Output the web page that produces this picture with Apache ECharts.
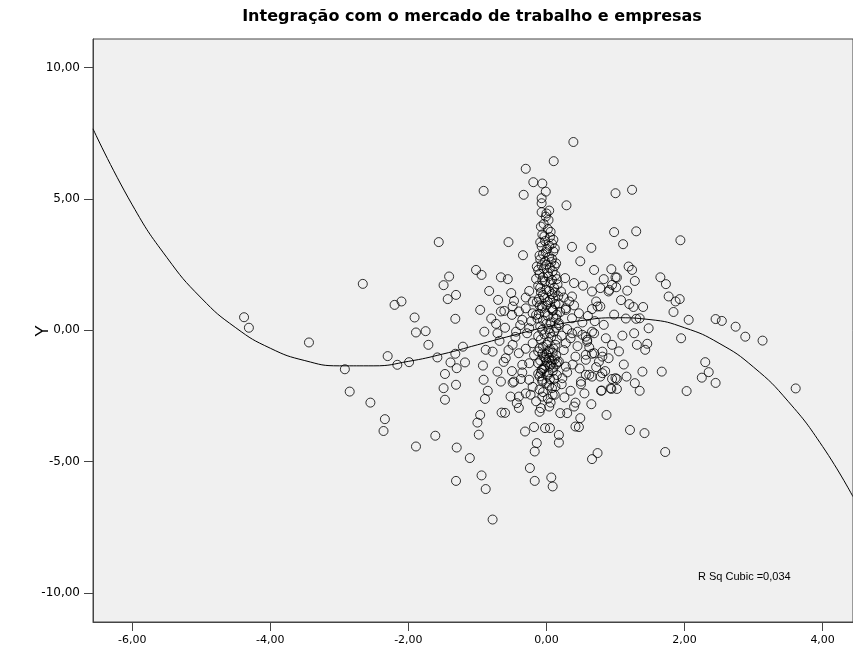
<!DOCTYPE html>
<html>
<head>
<meta charset="utf-8">
<script src="https://cdn.jsdelivr.net/npm/echarts@6/dist/echarts.min.js"></script>
<style>html,body{margin:0;padding:0;background:#fff;}#c{width:853px;height:653px;}</style>
</head>
<body>
<div id="c"></div>
<script>
const chartTitle = 'Integração com o mercado de trabalho e empresas';
const yAxisTitle = 'Y';
const fitLabel = 'R Sq Cubic =0,034';
const xTicks = [-6, -4, -2, 0, 2, 4];
const yTicks = [-10, -5, 0, 5, 10];

const upperPoints = [[0.39,7.17],[0.105,6.44],[-0.30,6.15],[-0.91,5.31],[-0.19,5.64],[-0.06,5.59],[-0.33,5.16],[-0.01,5.28],[-0.07,5.03],[-0.07,4.84],[-0.07,4.50],[0.04,4.56],[-0.01,4.33],[0.29,4.76],[1.00,5.22],[1.24,5.35],[0.98,3.74],[-1.56,3.36],[-0.55,3.36],[-0.34,2.86],[0.37,3.18],[0.65,3.14],[0.49,2.63],[0.69,2.30],[0.94,2.33],[1.00,2.02],[0.95,1.73],[0.90,1.48],[-1.02,2.30],[-0.94,2.11],[-0.66,2.02],[-0.56,1.95],[-1.41,2.05],[-1.49,1.72],[-1.31,1.35],[-1.43,1.19],[-2.20,0.97],[-2.10,1.10],[-1.91,0.49],[-1.32,0.44],[-0.83,1.50],[-0.70,1.16],[-0.96,0.78],[-0.51,1.42],[-0.47,1.12],[-0.61,0.74],[-0.25,1.50],[-0.14,2.43],[-0.15,1.96],[0.27,1.99],[0.40,1.80],[0.53,1.70],[0.21,1.48],[0.37,1.29],[0.28,0.78],[0.66,1.48],[0.78,1.61],[0.72,1.10],[0.66,0.81],[0.78,0.91],[0.91,1.54],[-0.30,0.84],[-0.40,0.72],[-0.50,0.59],[-0.20,0.65]];

const rightPoints = [[1.30,3.77],[1.11,3.28],[1.94,3.43],[1.19,2.43],[1.24,2.30],[0.83,1.95],[1.02,2.01],[1.28,1.88],[1.65,2.02],[1.73,1.76],[1.77,1.29],[1.93,1.19],[1.87,1.10],[1.84,0.70],[1.17,1.51],[1.01,1.64],[1.26,0.89],[1.40,0.89],[1.35,0.46],[1.30,0.44],[2.06,0.40],[2.45,0.43],[2.54,0.36],[2.74,0.14],[2.88,-0.24],[3.13,-0.39],[3.61,-2.21],[1.48,0.08],[1.27,-0.11],[1.31,-0.55],[1.46,-0.51],[1.43,-0.74],[1.95,-0.30],[0.86,-0.30],[0.83,0.21],[0.69,-0.11],[0.57,-0.24],[0.59,-0.36],[2.30,-1.21],[2.35,-1.59],[2.25,-1.80],[2.45,-2.00],[2.03,-2.31],[1.67,-1.57],[1.39,-1.57],[1.28,-2.01],[1.35,-2.30],[1.16,-1.76],[1.02,-1.85],[1.02,-2.23],[0.94,-2.23],[0.79,-2.30],[0.81,-1.00],[0.90,-1.06],[0.66,-0.89],[0.76,-1.19],[0.57,-1.12],[0.81,-1.63],[0.66,-1.76],[0.57,-1.69],[0.65,-2.81],[0.87,-3.22],[1.21,-3.79],[1.42,-3.91],[1.72,-4.63],[0.66,-4.90],[0.74,-4.67],[0.49,-3.34],[0.47,-3.68]];

const leftPoints = [[-2.66,1.77],[-4.38,0.50],[-4.31,0.10],[-3.44,-0.46],[-2.30,-0.98],[-2.16,-1.31],[-2.92,-1.48],[-2.85,-2.33],[-2.55,-2.75],[-2.34,-3.38],[-2.36,-3.83],[-1.99,-1.21],[-1.58,-1.03],[-1.21,-0.62],[-1.89,-0.08],[-1.75,-0.03],[-1.71,-0.55],[-1.32,-0.89],[-1.39,-1.22],[-1.30,-1.44],[-1.18,-1.22],[-1.47,-1.66],[-1.49,-2.20],[-1.31,-2.07],[-1.47,-2.64],[-1.61,-4.01],[-1.89,-4.42],[-1.30,-4.46],[-1.11,-4.86],[-1.31,-5.73],[-0.94,-5.52],[-0.88,-6.04],[-0.78,-7.20]];

const midPoints = [[-0.96,-3.22],[-1.00,-3.51],[-0.98,-3.97],[-0.90,-0.05],[-0.88,-0.74],[-0.92,-1.34],[-0.91,-1.88],[-0.85,-2.30],[-0.89,-2.61],[-0.73,0.25],[-0.71,-0.11],[-0.78,-0.81],[-0.71,-1.57],[-0.66,-1.95],[-0.65,-3.13],[-0.60,-3.14],[-0.49,-1.99],[-0.52,-2.52],[-0.40,-2.52],[-0.43,-2.77],[-0.37,-1.85],[-0.31,-3.85],[-0.18,-3.68],[-0.14,-4.29],[-0.17,-4.61],[-0.24,-5.24],[-0.17,-5.73],[-0.02,-3.72],[0.05,-3.72],[0.18,-3.98],[0.18,-4.27],[0.07,-5.60],[0.09,-5.94],[0.42,-2.75],[0.30,-3.15],[0.42,-3.66],[0.80,-2.29],[0.93,-2.20],[1.00,-1.82],[0.74,0.91],[-0.35,0.40],[-0.49,0.91],[-0.66,0.72],[-0.44,-0.05],[-0.28,-0.11],[-0.20,-0.49],[-0.49,-0.55],[-0.40,-0.87],[-0.59,-1.06],[-0.35,-1.31],[-0.47,-1.95],[-0.25,-1.88],[-0.23,-2.45],[-0.06,-1.88],[-0.06,-2.52],[0.09,-2.45],[0.04,-2.90],[-0.08,-2.96],[0.13,-2.14],[0.23,-1.82],[0.28,-1.38],[0.18,-1.19],[0.42,-1.00],[0.57,-0.93],[0.69,-0.87],[0.81,-0.81],[0.62,-1.69],[0.50,-1.95],[0.78,-1.76],[0.37,-0.11],[0.52,-0.17],[0.66,-0.05],[0.59,-0.43],[0.28,-0.49],[0.18,0.27],[0.37,0.46],[0.47,0.65],[0.28,0.84],[0.09,0.78],[-0.15,0.59],[-0.25,0.08],[-0.01,-1.12],[0.16,-1.22],[-0.06,-1.50]];

const columnPoints = [[0.00,4.45],[0.03,4.20],[-0.04,4.05],[0.02,3.85],[-0.06,3.65],[0.05,3.55],[-0.02,3.40],[0.08,3.30],[-0.07,3.20],[0.01,3.10],[0.10,3.00],[-0.05,2.90],[0.04,2.80],[-0.09,2.70],[0.07,2.60],[0.00,2.50],[0.12,2.45],[-0.04,2.35],[0.09,2.25],[-0.10,2.15],[0.03,2.05],[0.15,1.95],[-0.06,1.90],[0.06,1.80],[-0.12,1.70],[0.11,1.62],[0.00,1.55],[-0.08,1.45],[0.08,1.38],[0.17,1.30],[-0.03,1.25],[0.05,1.15],[-0.14,1.08],[0.13,1.00],[0.00,0.95],[-0.07,0.85],[0.09,0.75],[0.20,0.70],[-0.11,0.62],[0.02,0.55],[0.14,0.45],[-0.05,0.38],[0.06,0.30],[0.18,0.20],[-0.09,0.15],[0.03,0.05],[0.11,-0.05],[-0.03,-0.15],[0.07,-0.25],[-0.08,-0.35],[0.02,-0.45],[0.13,-0.55],[-0.05,-0.62],[0.05,-0.72],[-0.12,-0.80],[0.09,-0.85],[0.00,-0.92],[-0.04,-1.00],[0.04,-1.05],[0.12,-1.10],[-0.09,-1.15],[0.01,-1.20],[0.07,-1.28],[-0.02,-1.35],[0.10,-1.42],[-0.07,-1.50],[0.03,-1.60],[0.15,-1.70],[-0.10,-1.75],[0.05,-1.85],[0.00,-2.00],[0.08,-2.20],[-0.05,-2.35],[0.02,-2.60],[0.06,-2.75]];

const denseColumn = [[-0.08,3.95],[0.06,3.75],[-0.03,3.58],[0.10,3.45],[-0.09,3.35],[0.04,3.22],[0.12,3.12],[-0.01,2.98],[-0.10,2.85],[0.08,2.72],[-0.02,2.62],[0.14,2.55],[-0.07,2.48],[0.05,2.38],[-0.12,2.30],[0.02,2.18],[0.13,2.10],[-0.05,2.02],[0.08,1.92],[-0.02,1.85],[0.16,1.75],[-0.09,1.62],[0.04,1.50],[0.12,1.45],[-0.05,1.35],[0.10,1.22],[-0.11,1.20],[0.02,1.08],[0.18,1.02],[-0.06,0.92],[0.07,0.85],[0.15,0.60],[-0.02,0.68],[0.10,0.50],[-0.13,0.45],[0.00,0.25],[0.14,0.10],[-0.06,0.02],[0.05,-0.10],[-0.12,-0.22],[0.15,-0.35],[0.00,-0.55],[-0.10,-0.68],[0.10,-0.70],[0.03,-0.82],[-0.06,-0.88],[0.14,-0.95],[-0.02,-1.05],[0.08,-1.15],[-0.12,-1.25],[0.05,-1.35],[0.14,-1.30],[-0.04,-1.45],[0.09,-1.55],[-0.08,-1.62],[0.01,-1.72],[0.11,-1.85],[-0.06,-1.95],[0.04,-2.10],[-0.10,-2.25],[0.12,-2.45]];

const extraPoints = [[0.22,-0.20],[0.30,0.05],[0.35,-0.30],[0.45,-0.60],[0.25,-0.75],[0.38,-1.30],[0.30,-1.60],[0.48,-1.45],[0.22,-2.05],[0.35,-2.30],[0.26,-2.55],[0.55,-2.40],[0.45,-0.05],[0.52,0.30],[0.40,0.95],[0.33,1.10],[0.25,1.25],[-0.20,1.10],[-0.30,1.25],[-0.38,0.20],[-0.45,-0.25],[-0.30,-0.70],[-0.18,-0.95],[-0.25,-1.25],[-0.12,-1.65],[-0.35,-1.60],[-0.20,-2.15],[-0.30,-2.40],[-0.15,-2.70],[-0.55,-0.75],[-0.62,-1.20],[-0.50,-1.55],[-0.68,-0.40],[-0.80,0.45],[-0.60,0.10],[-0.22,0.35],[-0.10,0.95],[0.60,0.55],[0.70,0.35],[0.62,-0.65],[0.72,-1.40],[0.85,-1.55],[0.95,-0.55],[1.05,-0.80],[1.10,-0.20],[1.15,0.45],[0.98,0.60],[1.08,1.15],[1.20,1.00],[1.12,-1.30],[0.95,-1.85],[0.50,-2.05],[0.40,-2.90],[-0.40,-2.95],[-0.10,-3.10],[0.20,-3.15]];

// Fit line
const curveX = [-6.568,-6.0,-5.5,-5.0,-4.5,-4.0,-3.5,-3.0,-2.5,-2.0,-1.5,-1.0,-0.5,0.0,0.5,1.0,1.5,2.0,2.5,3.0,3.5,4.0,4.44];
const curveY = [7.67,4.78,2.78,1.23,0.10,-0.68,-1.15,-1.35,-1.35,-1.18,-0.90,-0.55,-0.20,0.13,0.37,0.48,0.41,0.10,-0.49,-1.40,-2.70,-4.42,-6.33];

const allPoints = [].concat(upperPoints, rightPoints, leftPoints, midPoints, columnPoints, denseColumn, extraPoints);
const curveData = curveX.map((x, i) => [x, curveY[i]]);
const fmt = v => v.toFixed(2).replace('.', ',');

const chart = echarts.init(document.getElementById('c'), null, {renderer: 'canvas'});
chart.setOption({
  backgroundColor: '#ffffff',
  animation: false,
  grid: {left: 93, right: -2, top: 39, bottom: 31, show: true, backgroundColor: '#f0f0f0', borderColor: '#444', borderWidth: 1},
  graphic: [
    {type: 'text', x: 472, y: 17, style: {text: chartTitle, font: 'bold 16px "DejaVu Sans", sans-serif', fill: '#000', textAlign: 'center', textVerticalAlign: 'middle'}},
    {type: 'text', x: 43, y: 331, rotation: Math.PI / 2, style: {text: yAxisTitle, font: '18px "Liberation Sans", Arial, sans-serif', fill: '#000', textAlign: 'center', textVerticalAlign: 'middle'}},
    {type: 'text', x: 698, y: 577, z: 10, style: {text: fitLabel, font: '11px "Liberation Sans", Arial, sans-serif', fill: '#000', textAlign: 'left', textVerticalAlign: 'middle'}}
  ],
  xAxis: {
    type: 'value', min: -6.568, max: 4.44,
    axisLine: {show: true, onZero: false, lineStyle: {color: '#444', width: 1}},
    axisTick: {show: true, length: 9, customValues: xTicks, lineStyle: {color: '#444'}},
    axisLabel: {customValues: xTicks, formatter: fmt, color: '#000', fontSize: 11, fontFamily: 'DejaVu Sans', margin: 13},
    splitLine: {show: false}
  },
  yAxis: {
    type: 'value', min: -11.1, max: 11.09,
    axisLine: {show: true, onZero: false, lineStyle: {color: '#444', width: 1}},
    axisTick: {show: true, length: 9, customValues: yTicks, lineStyle: {color: '#444'}},
    axisLabel: {customValues: yTicks, formatter: fmt, color: '#000', fontSize: 12, fontFamily: 'DejaVu Sans', margin: 13},
    splitLine: {show: false}
  },
  series: [
    {type: 'scatter', data: allPoints, symbol: 'circle', symbolSize: 9,
     itemStyle: {color: 'rgba(0,0,0,0)', borderColor: '#000', borderWidth: 1}, silent: true},
    {type: 'line', data: curveData, smooth: true, showSymbol: false, symbol: 'none',
     lineStyle: {color: '#000', width: 1}, silent: true, z: 3}
  ]
});
</script>
</body>
</html>
